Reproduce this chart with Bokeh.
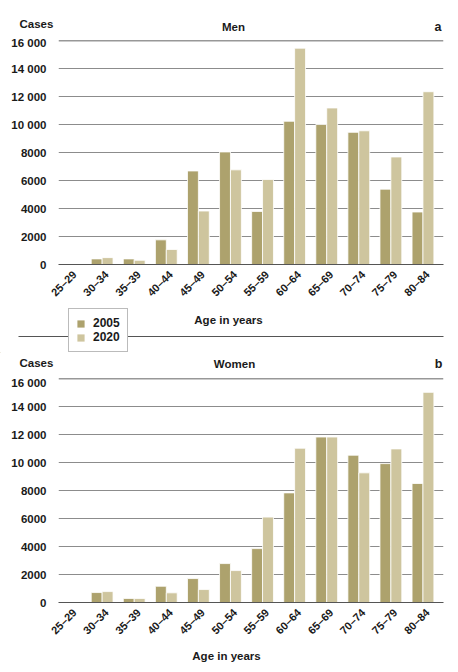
import math
from bokeh.plotting import figure
from bokeh.models import (FactorRange, Range1d, Label, Legend, LegendItem,
                          Span, FixedTicker, ColumnDataSource)
from bokeh.layouts import column
from bokeh.transform import dodge
from bokeh.embed import file_html
from bokeh.resources import INLINE

# ---------------- data ----------------
ages = ["25–29", "30–34", "35–39", "40–44", "45–49", "50–54",
        "55–59", "60–64", "65–69", "70–74", "75–79", "80–84"]
years = ["2005", "2020"]
men_2005 = [0, 400, 400, 1760, 6680, 8040, 3790, 10230, 10000, 9440, 5380, 3750]
men_2020 = [0, 490, 300, 1070, 3820, 6760, 6070, 15450, 11180, 9550, 7680, 12340]
women_2005 = [0, 710, 290, 1160, 1710, 2780, 3850, 7830, 11820, 10520, 9920, 8500]
women_2020 = [0, 780, 290, 690, 925, 2280, 6100, 11020, 11820, 9260, 10970, 15010]
y_ticks = [0, 2000, 4000, 6000, 8000, 10000, 12000, 14000, 16000]
y_tick_labels = ["0", "2000", "4000", "6000", "8000",
                 "10 000", "12 000", "14 000", "16 000"]

FONT = "Liberation Sans"
DARK = "#ada26d"
LIGHT = "#cec59e"
TXT = "#1a1a1a"
W = 450


def strip(height):
    """A bare figure whose frame is the whole canvas (pixel coordinates)."""
    f = figure(width=W, height=height, x_range=Range1d(-8, W - 8),
               y_range=Range1d(0, height), x_axis_location=None,
               y_axis_location=None, min_border=0, min_border_left=0,
               min_border_right=0, min_border_top=0, min_border_bottom=0,
               toolbar_location=None, title=None, frame_align=False,
               output_backend="svg", background_fill_color="white",
               border_fill_color="white")
    f.outline_line_color = None
    f.grid.visible = False
    return f


def text(f, x, y, s, align, size="11.5px"):
    f.add_layout(Label(x=x, y=y, text=s, text_font=FONT,
                       text_font_style="bold", text_font_size=size,
                       text_color=TXT, text_align=align,
                       text_baseline="alphabetic"))


def chart(v05, v20, height, btop, bbottom):
    src = ColumnDataSource(dict(age=ages, y05=v05, y20=v20))
    p = figure(x_range=FactorRange(*ages, range_padding=0),
               y_range=Range1d(0, 16000), title=None, frame_align=False,
               width=W, height=height, output_backend="svg",
               toolbar_location=None, min_border_left=58,
               min_border_right=7, min_border_top=btop,
               min_border_bottom=bbottom,
               background_fill_color="white", border_fill_color="white")
    p.outline_line_color = None
    p.ygrid.ticker = FixedTicker(ticks=y_ticks)
    p.ygrid.grid_line_color = "#8c8c8c"
    p.ygrid.grid_line_width = 1
    p.xgrid.visible = False
    p.add_layout(Span(location=16000, dimension="width",
                      line_color="#333333", line_width=1.3))
    p.vbar(x=dodge("age", -0.31, range=p.x_range), top="y05", width=0.34,
           source=src, fill_color=DARK, line_color="white", line_width=0.8)
    p.vbar(x=dodge("age", 0.03, range=p.x_range), top="y20", width=0.34,
           source=src, fill_color=LIGHT, line_color="white", line_width=0.8)

    p.yaxis.ticker = FixedTicker(ticks=y_ticks)
    p.yaxis.major_label_overrides = {t: l for t, l in zip(y_ticks, y_tick_labels)}
    p.yaxis.axis_line_color = None
    p.yaxis.major_tick_line_color = None
    p.yaxis.minor_tick_line_color = None
    p.yaxis.major_label_standoff = 6
    p.yaxis.major_label_text_font = FONT
    p.yaxis.major_label_text_font_style = "bold"
    p.yaxis.major_label_text_font_size = "11.5px"
    p.yaxis.major_label_text_color = TXT

    p.xaxis.axis_line_color = "#555555"
    p.xaxis.major_tick_line_color = None
    p.xaxis.minor_tick_line_color = None
    p.xaxis.major_label_orientation = math.pi / 4
    p.xaxis.major_label_standoff = 2
    p.xaxis.major_label_text_font = FONT
    p.xaxis.major_label_text_font_style = "bold"
    p.xaxis.major_label_text_font_size = "11px"
    p.xaxis.major_label_text_color = TXT
    return p


# ---- panel a (men) ----
h1 = strip(36)
text(h1, 11, 13, "Cases", "left")
text(h1, 225, 10, "Men", "center")
text(h1, 433, 10, "a", "right", "12.5px")

p1 = chart(men_2005, men_2020, 269, 4, 40)

f1 = strip(48)
text(f1, 220, 34, "Age in years", "center")
f1.segment(x0=[10], x1=[435], y0=[17], y1=[17], line_color="#555555",
           line_width=1)
# legend swatches (one hidden off-canvas point so the swatch has a colour)
d1 = f1.vbar(x=[-500], top=[1], width=1, fill_color=DARK, line_color=None)
d2 = f1.vbar(x=[-500], top=[1], width=1, fill_color=LIGHT, line_color=None)
legend = Legend(items=[LegendItem(label=years[0], renderers=[d1]),
                       LegendItem(label=years[1], renderers=[d2])],
                location=(68, 1), orientation="vertical",
                label_text_font=FONT, label_text_font_style="bold",
                label_text_font_size="12px", label_text_color=TXT,
                glyph_width=9, glyph_height=9, label_height=14,
                label_standoff=8, spacing=0, padding=7, margin=0,
                border_line_color="#777777", border_line_width=1,
                background_fill_color="white", background_fill_alpha=1)
f1.add_layout(legend)

# ---- panel b (women) ----
h2 = strip(23)
text(h2, 11, 14, "Cases", "left")
text(h2, 226, 13, "Women", "center")
text(h2, 434, 13, "b", "right", "12.5px")

p2 = chart(women_2005, women_2020, 267, 2, 40)

f2 = strip(21)
text(f2, 218, 9, "Age in years", "center")

layout = column(h1, p1, f1, h2, p2, f2, spacing=0)
open("out.html", "w").write(file_html(layout, INLINE))
